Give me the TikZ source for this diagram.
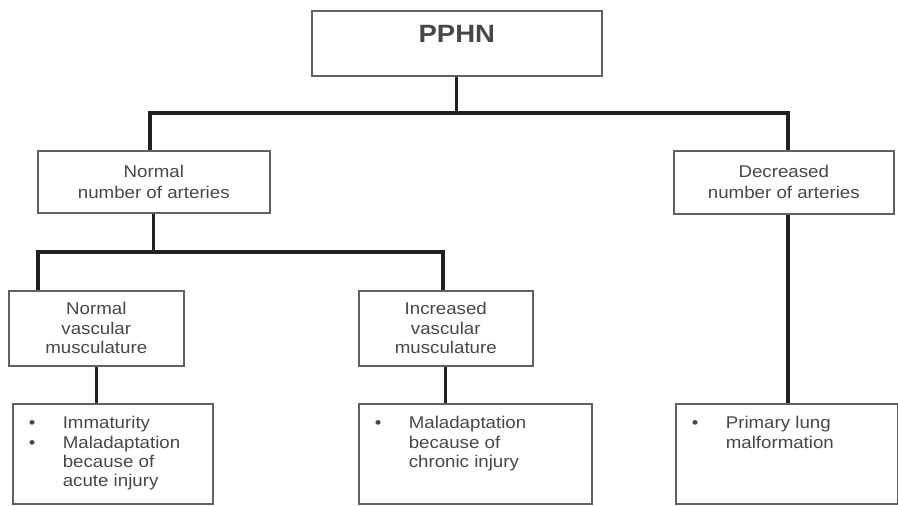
\documentclass[tikz,border=0pt]{standalone}
\usepackage{fontspec}
\setmainfont{Liberation Sans}[FakeStretch=1.1]
\definecolor{boxc}{gray}{0.38}
\definecolor{textc}{gray}{0.28}
\definecolor{linkc}{gray}{0.13}
\newcommand{\bul}{\makebox[17pt][l]{\textbullet}}
\newcommand{\cont}{\hspace*{17pt}}
\newcommand{\leafitems}[2]{\parbox[c][43pt][t]{#1}{\raggedright\rule{0pt}{9pt}#2}}
\tikzset{
  box/.style={draw=boxc,line width=.8pt,anchor=north west,align=center,inner sep=0pt,text=textc,font=\fontsize{8.5}{10.5}\selectfont},
  leaf/.style={draw=boxc,line width=.8pt,anchor=north west,align=left,inner xsep=8pt,inner ysep=3.5pt,text=textc,font=\fontsize{8.5}{9.7}\selectfont},
  link/.style={draw=linkc,line width=1.6pt}
}
\begin{document}
\begin{tikzpicture}[x=0.5pt,y=-0.5pt]
\useasboundingbox (0,0) rectangle (898,506);

\node[box,minimum width=145pt,text height=16pt,text depth=16.5pt,font=\fontsize{12.5}{14}\selectfont\bfseries] (pphn) at (311,10) {PPHN};

\node[box,minimum width=116pt,minimum height=31pt] (normal) at (37,150) {Normal\\number of arteries};
\node[box,minimum width=110pt,minimum height=31.5pt] (decr) at (673,150) {Decreased\\number of arteries};

\node[box,minimum width=87.5pt,minimum height=37.5pt,font=\fontsize{8.5}{9.7}\selectfont] (nvasc) at (8,290) {Normal\\vascular\\musculature};
\node[box,minimum width=87pt,minimum height=37.5pt,font=\fontsize{8.5}{9.7}\selectfont] (ivasc) at (358,290) {Increased\\vascular\\musculature};

\node[leaf] (immat) at (12,403) {\leafitems{84pt}{\bul Immaturity\\\bul Maladaptation\\\cont because of\\\cont acute injury}};
\node[leaf] (chronic) at (358,403) {\leafitems{100.5pt}{\bul Maladaptation\\\cont because of\\\cont chronic injury}};
\node[leaf] (lung) at (675,403) {\leafitems{95pt}{\bul Primary lung\\\cont malformation}};

\coordinate (jA) at (150,113);
\coordinate (jB) at (788,113);
\coordinate (kA) at (38,252);
\coordinate (kB) at (443,252);

\draw[link] (pphn.south) -- (pphn.south |- jA);
\draw[link] (jA |- normal.north) -- (jA) -- (jB) -- (jB |- decr.north);

\draw[link] (normal.south) -- (normal.south |- kA);
\draw[link] (kA |- nvasc.north) -- (kA) -- (kB) -- (kB |- ivasc.north);

\draw[link] (nvasc.south) -- (nvasc.south |- immat.north);
\draw[link] (ivasc.south) -- (ivasc.south |- chronic.north);
\draw[link] (jB |- decr.south) -- (jB |- lung.north);
\end{tikzpicture}
\end{document}
